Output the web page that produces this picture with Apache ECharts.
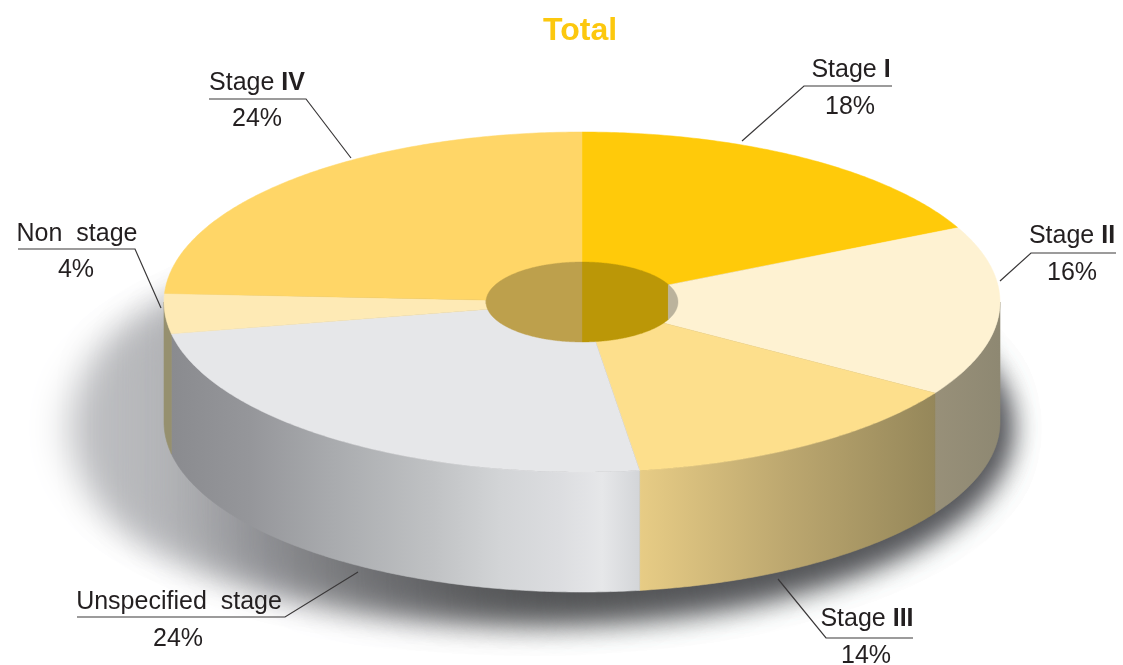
<!DOCTYPE html>
<html><head><meta charset="utf-8">
<style>html,body{margin:0;padding:0;background:#fff}#c{width:1123px;height:665px}</style>
<script src="https://cdn.jsdelivr.net/npm/echarts@6/dist/echarts.min.js"></script>
</head><body><div id="c"></div>
<script>
// Data
const stageNames = ['Stage', 'Stage', 'Stage', 'Unspecified', 'Non', 'Stage'];
const stageSuffix = ['I', 'II', 'III', '', '', 'IV'];
const stageWord = ['', '', '', 'stage', 'stage', ''];
const stageValues = [17.8, 16.2, 13.8, 24.2, 3.8, 24.2];
const titleText = 'Total';

// Styles and layout
const topColors = ['#ffca0a', '#fef2d2', '#fddf8c', '#e6e7e9', '#feeab5', '#ffd667'];
const holeColors = ['#bb9707', '#bbb39c', '#bb9707', '#bbb', '#bba863', '#bda04c'];
const wallStops = [
  null,
  [[0, '#989079'], [1, '#8e8872']],
  [[0, '#e7cc85'], [0.5, '#bca76f'], [1, '#95875a']],
  [[0, '#8a8b8f'], [0.167, '#95969a'], [0.345, '#a9abae'], [0.56, '#c0c2c4'], [0.7, '#d2d4d6'], [0.83, '#dcdde0'], [0.92, '#e6e7e9'], [1, '#d3d5d8']],
  [[0, '#96906f'], [1, '#96906f']],
  null
];
const CX = 582, CY = 302, RX = 418, RY = 170, DEPTH = 120, HRX = 96, HRY = 40;
const labelLines = [
  [[742,141],[804,86],[892,86]],
  [[1000,281],[1031,253],[1116,253]],
  [[778,579],[826,638],[913,638]],
  [[358,572],[285,617],[77,617]],
  [[161,308],[135,249],[18,249]],
  [[351,158],[306,99],[209,99]]
];
const labelPos = [[851,70,850,107],[1072,236,1072,273],[867,619,866,656],[179,602,178,639],[77,234,76,270],[257,83,257,119]];
// soft shadow under the disc: overlapping vertical bands of one ellipse, light to dark
const SH = { cx: 536, cy: 428, rx: 466, ry: 184, step: 30, width: 90 };
const shadowColorAt = [[70,[196,197,200]],[200,[180,181,184]],[300,[142,143,147]],[400,[112,113,116]],[500,[92,93,95]],[560,[85,86,88]],[1002,[85,86,90]]];
const shadowBlurAt = [[70,42],[300,38],[1002,34]];
const FONT = '"Liberation Sans", Arial, sans-serif';
const OFF = 3000;

const total = stageValues.reduce((a, b) => a + b, 0);
function span(i) {
  let s = 0;
  for (let k = 0; k < i; k++) s += stageValues[k];
  return [s / total * Math.PI * 2, (s + stageValues[i]) / total * Math.PI * 2];
}
const px = (a, rx, cx) => cx + Math.sin(a) * rx;
const py = (a, ry, cy) => cy - Math.cos(a) * ry;
function arc(a0, a1, rx, ry, cy) {
  const n = Math.max(2, Math.ceil(Math.abs(a1 - a0) / 0.01)), pts = [];
  for (let i = 0; i <= n; i++) {
    const a = a0 + (a1 - a0) * i / n;
    pts.push([px(a, rx, CX), py(a, ry, cy)]);
  }
  return pts;
}
function lerpTable(t, x) {
  for (let i = 1; i < t.length; i++) {
    if (x <= t[i][0]) {
      const f = Math.max(0, (x - t[i-1][0]) / (t[i][0] - t[i-1][0]));
      const a = t[i-1][1], b = t[i][1];
      return Array.isArray(a) ? a.map((v, k) => v + (b[k] - v) * f) : a + (b - a) * f;
    }
  }
  return t[t.length - 1][1];
}

const sliceData = stageValues.map((v, i) => ({ name: (stageNames[i] + ' ' + stageSuffix[i] + stageWord[i]).trim(), value: v }));
const bandStarts = [];
for (let x = SH.cx - SH.rx; x < SH.cx + SH.rx; x += SH.step) bandStarts.push(x);

function renderShadow(params) {
  const x0 = bandStarts[params.dataIndex], x1 = Math.min(x0 + SH.width, SH.cx + SH.rx);
  const upper = [], lower = [];
  for (let k = 0; k <= 24; k++) {
    const x = x0 + (x1 - x0) * k / 24;
    const d = Math.min(1, Math.abs(x - SH.cx) / SH.rx);
    const h = Math.sqrt(1 - d * d) * SH.ry;
    upper.push([x - OFF, SH.cy - h]);
    lower.unshift([x - OFF, SH.cy + h]);
  }
  const c = lerpTable(shadowColorAt, x0 + SH.width / 2).map(Math.round);
  const col = 'rgb(' + c.join(',') + ')';
  return { type: 'polygon', shape: { points: upper.concat(lower) }, style: {
    fill: col, shadowColor: col, shadowOffsetX: OFF, shadowBlur: lerpTable(shadowBlurAt, x0) } };
}
function renderWall(params) {
  const i = params.dataIndex;
  if (!wallStops[i]) return { type: 'group', children: [] };
  const [a0, a1] = span(i);
  const b0 = Math.max(a0, Math.PI / 2), b1 = Math.min(a1, Math.PI * 1.5);
  const x0 = px(b0, RX, CX), x1 = px(b1, RX, CX);
  const lx = Math.min(x0, x1), rx = Math.max(x0, x1);
  const pts = arc(b0, b1, RX, RY, CY).concat(arc(b1, b0, RX, RY, CY + DEPTH));
  const grad = () => new echarts.graphic.LinearGradient(lx, 0, rx, 0,
      wallStops[i].map(s => ({ offset: s[0], color: s[1] })), true);
  return { type: 'polygon', shape: { points: pts }, style: { fill: grad(), stroke: grad(), lineWidth: 0.6 } };
}
function renderTop(params) {
  const i = params.dataIndex, [a0, a1] = span(i);
  const pts = arc(a0, a1, RX, RY, CY).concat([[CX, CY]]);
  return { type: 'polygon', shape: { points: pts }, style: { fill: topColors[i], stroke: topColors[i], lineWidth: 0.5 } };
}
function renderHole(params) {
  const i = params.dataIndex;
  let [a0, a1] = span(i);
  // the far inner wall of the hole is what shows through it
  const parts = [];
  if (a0 < Math.PI / 2) parts.push([a0, Math.min(a1, Math.PI / 2)]);
  if (a1 > Math.PI * 1.5) parts.push([Math.max(a0, Math.PI * 1.5), a1]);
  return { type: 'group', children: parts.map(p => {
    const top = arc(p[0], p[1], HRX, HRY, CY);
    const bot = arc(Math.PI - p[1], Math.PI - p[0], HRX, HRY, CY);
    return { type: 'polygon', shape: { points: top.concat(bot) }, style: { fill: holeColors[i], stroke: holeColors[i], lineWidth: 0.4 } };
  }) };
}
const pct = i => Math.round(stageValues[i]) + '%';
function renderLabel(params) {
  const i = params.dataIndex, p = labelPos[i];
  const f = '25px ' + FONT;
  const base = { font: f, fill: '#231f20', align: 'center', verticalAlign: 'middle' };
  const name = stageSuffix[i]
    ? '{a|' + stageNames[i] + ' }{b|' + stageSuffix[i] + '}'
    : '{a|' + stageNames[i] + '  ' + stageWord[i] + '}';
  return { type: 'group', children: [
    { type: 'polyline', shape: { points: labelLines[i] }, style: { fill: null, stroke: '#3a3839', lineWidth: 1.2 } },
    { type: 'text', style: Object.assign({}, base, { x: p[0], y: p[1], text: name, rich: {
        a: { font: f, fill: '#231f20' }, b: { font: 'bold ' + f, fill: '#231f20' } } }) },
    { type: 'text', style: Object.assign({}, base, { x: p[2], y: p[3], text: pct(i) }) }
  ] };
}

const mk = (fn, data) => ({ type: 'custom', coordinateSystem: 'none', renderItem: fn, data, silent: true, animation: false, clip: false });
const chart = echarts.init(document.getElementById('c'), null, { renderer: 'canvas' });
chart.setOption({
  animation: false,
  backgroundColor: '#fff',
  title: { text: titleText, left: 538, top: 10,
    textStyle: { color: '#fcc80e', fontFamily: FONT, fontWeight: 'bold', fontSize: 32 } },
  series: [
    mk(renderShadow, bandStarts.map((s, i) => i)),
    mk(renderWall, sliceData),
    mk(renderTop, sliceData),
    mk(renderHole, sliceData),
    mk(renderLabel, sliceData)
  ]
});
</script></body></html>
